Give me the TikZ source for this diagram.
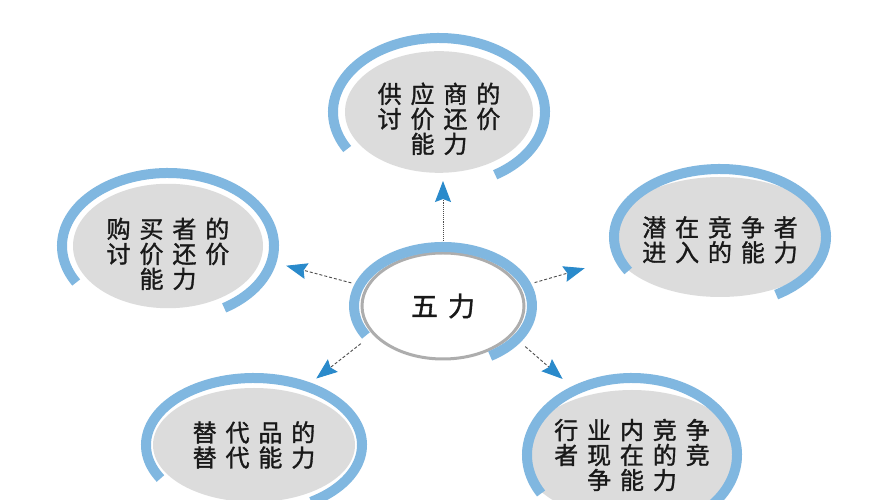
\documentclass[tikz,border=0pt]{standalone}
\usepackage{fontspec}
\newfontfamily\cjk[LetterSpace=37, FakeBold=1.3]{Noto Sans CJK SC}
\usetikzlibrary{shapes.geometric, arrows.meta}
\definecolor{ringblue}{HTML}{80B7E0}
\definecolor{tipblue}{HTML}{2A8ACB}
\definecolor{discgray}{HTML}{DCDCDC}
\definecolor{rimgray}{HTML}{ADADAD}
\begin{document}
\begin{tikzpicture}[x=1pt, y=1pt,
    disc/.style={ellipse, fill=discgray, inner sep=0pt, align=center, text=black!90, font=\cjk\fontsize{24}{25}\selectfont},
    ring/.style={draw=ringblue, line width=10pt},
    link/.style={densely dashed, gray!60!black, line width=0.9pt, -{Stealth[length=21pt, width=16pt, inset=3pt, color=tipblue, fill=tipblue]}}]
  \fill[white] (0,0) rectangle (873,500);
  \useasboundingbox (0,0) rectangle (873,500);
  \node [disc, fill=white, draw=rimgray, line width=3pt, minimum width=162pt, minimum height=106pt, font=\cjk\fontsize{27}{30}\selectfont] (Five) at (443,194) {五力};
  \node [disc, minimum width=188pt, minimum height=116pt] (Supplier) at (439,388) {\rule{0pt}{34pt}供应商的\\讨价还价\\能力};
  \node [disc, minimum width=190pt, minimum height=122pt] (Buyer) at (168,254) {\rule{0pt}{36pt}购买者的\\讨价还价\\能力};
  \node [disc, minimum width=186pt, minimum height=120pt] (Entrant) at (720,263) {\rule{0pt}{26pt}潜在竞争者\\进入的能力};
  \node [disc, minimum width=202pt, minimum height=114pt] (Substitute) at (254,55) {替代品的\\替代能力};
  \node [disc, minimum width=198pt, minimum height=130pt] (Rivalry) at (632,45) {行业内竞争\\者现在的竞\\争能力};
  % blue rings, open at the lower right
  \draw[ring] ([shift={(-58:89 and 59)}]Five.center) arc[start angle=-58, end angle=210, x radius=89, y radius=59];
  \draw[ring] ([shift={(-58:106 and 74)}]Supplier.center) arc[start angle=-58, end angle=210, x radius=106, y radius=74];
  \draw[ring] ([shift={(-58:106 and 73)}]Buyer.center) arc[start angle=-58, end angle=210, x radius=106, y radius=73];
  \draw[ring] ([shift={(-58:106 and 68)}]Entrant.center) arc[start angle=-58, end angle=210, x radius=106, y radius=68];
  \draw[ring] ([shift={(-58:108 and 67)}]Substitute.center) arc[start angle=-58, end angle=210, x radius=108, y radius=67];
  \draw[ring] ([shift={(-58:105 and 77)}]Rivalry.center) arc[start angle=-58, end angle=210, x radius=105, y radius=77];
  % arrows
  \draw[link, densely dotted, shorten <=11pt, shorten >=8pt] (Five.north) -- (Five.north |- Supplier.south);
  \draw[link, shorten <=15pt, shorten >=26pt] (Five.166) -- (Buyer.-8);
  \draw[link, shorten <=15pt, shorten >=34pt] (Five.14) -- (Entrant.192);
  \draw[link, shorten <=15pt, shorten >=24pt] (Five.202) -- (Substitute.50);
  \draw[link, shorten <=17pt, shorten >=27pt] (Five.-23) -- (Rivalry.130);
\end{tikzpicture}
\end{document}
